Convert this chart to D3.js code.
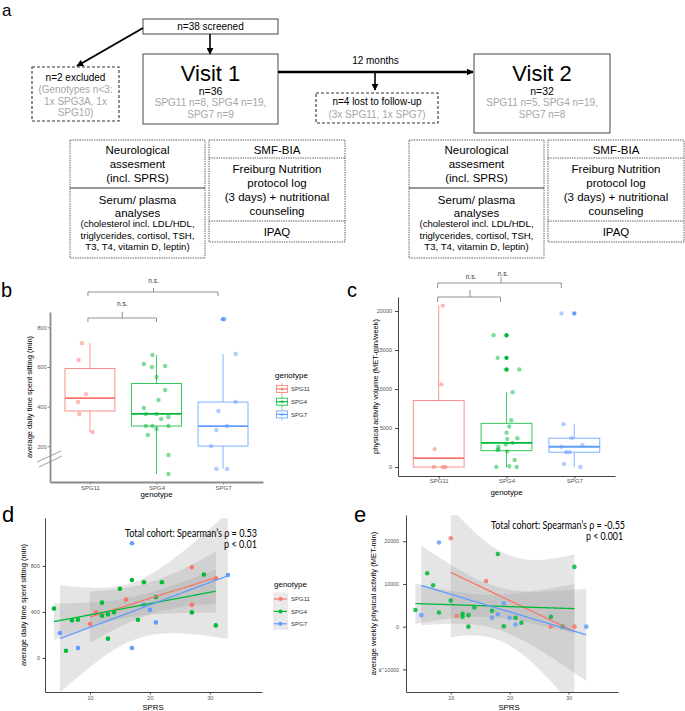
<html>
<script src="https://d3js.org/d3.v7.min.js"></script>
<style>
body {margin:0; background:#fff;}
</style>
<body>
<svg width=685 height=711></svg>
<script>
// ---- data ----
const genotypes = ["SPG11", "SPG4", "SPG7"];
const colors = ["#F8766D", "#00BA38", "#619CFF"];

// panel b: average daily time spent sitting (min); jitter = offset as share of category step
const sitSPG11 = [720, 635, 463, 423, 363, 272];
const sitJitSPG11 = [-0.12, -0.17, -0.06, -0.18, -0.16, 0.04];
const sitSPG4 = [615, 600, 605, 549, 660, 484, 433, 393, 363, 363, 338, 348, 302, 302, 302, 287, 257, 156, 60];
const sitJitSPG4 = [-0.19, -0.07, 0.13, 0, -0.06, 0.13, 0.03, -0.19, -0.16, 0, 0.07, 0.18, -0.16, -0.06, 0.18, 0, -0.13, 0.18, 0.18];
const sitSPG7 = [841, 665, 423, 378, 302, 282, 201, 86, 86];
const sitJitSPG7 = [0.02, 0.19, 0.19, -0.07, 0.06, -0.1, -0.18, -0.1, 0.06];

// panel c: physical activity volume (MET-min/week)
const actSPG11 = [20700, 10600, 2300, 0, 0, 0];
const actJitSPG11 = [0.06, 0.04, -0.06, -0.07, 0.06, 0.1];
const actSPG4 = [16900, 14000, 12500, 9600, 6000, 5200, 4400, 3700, 3600, 3100, 2900, 2600, 2200, 2250, 2000, 900, 0, 100, 0];
const actJitSPG4 = [-0.19, -0.13, 0.19, 0.09, 0.07, 0.04, 0, 0.16, 0.01, 0.09, -0.01, -0.12, -0.13, -0.12, 0.01, 0.12, -0.15, 0.04, 0.15];
const actSPG7 = [19700, 5500, 3700, 2800, 2600, 1900, 1900, 400, 0];
const actJitSPG7 = [-0.19, -0.16, -0.04, 0.12, -0.19, -0.12, -0.07, -0.15, 0.09];

// panel d: SPRS vs sitting time
const sprsD11 = [10, 11, 16, 27, 27, 31];
const sitD11 = [295, 397, 507, 789, 462, 693];
const sprsD4 = [4, 6, 7, 8, 12, 12, 13, 13, 14, 15, 17, 18, 19, 21, 22, 27, 29, 31];
const sitD4 = [429, 63, 327, 333, 481, 368, 379, 168, 397, 602, 678, 332, 658, 529, 658, 396, 725, 283];
const sprsD7 = [5, 8, 17, 17, 19, 20, 21, 33];
const sitD7 = [217, 87, 997, 87, 462, 418, 309, 722];

// panel e: SPRS vs weekly physical activity
const sprsE11 = [10, 11, 16, 27, 31];
const actE11 = [20700, 2500, 10700, 0, 0];
const sprsE4 = [4, 6, 7, 8, 10, 12, 12, 13, 13, 14, 17, 18, 19, 21, 22, 27, 29, 31];
const actE4 = [3900, 12500, 9700, 3300, 6100, 3000, 2300, 2700, 0, 4500, 3700, 17000, 100, 2100, 900, 2300, 0, 14000];
const sprsE7 = [5, 8, 17, 18, 19, 20, 21, 33];
const actE7 = [2700, 19700, 2100, 2900, 5500, 2100, 500, 0];

const ticksB = [200, 400, 600, 800];
const ticksC = [0, 5000, 10000, 15000, 20000];
const ticksDy = [0, 400, 800];
const ticksEy = [-10000, 0, 10000, 20000];
const ticksSPRS = [10, 20, 30];

// ---- helpers ----
const F = '"Liberation Sans", Arial, sans-serif';
const FN = 'Lato, "Open Sans", sans-serif';
const svg = d3.select("svg");
const GRAY = "#a6a6a6";
const plain = d3.format("d");

function txt(g, x, y, s, size, fill, anchor) {
  return g.append("text").attr("x", x).attr("y", y).text(s)
    .attr("font-size", size).attr("fill", fill || "#000")
    .attr("text-anchor", anchor || "middle").attr("font-family", F);
}
function rect(g, x, y, w, h, dash, sw) {
  return g.append("rect").attr("x", x).attr("y", y).attr("width", w).attr("height", h)
    .attr("fill", "none").attr("stroke", "#333").attr("stroke-width", sw || 0.9)
    .attr("stroke-dasharray", dash || null);
}
function line(g, x1, y1, x2, y2, sw, arrow) {
  return g.append("line").attr("x1", x1).attr("y1", y1).attr("x2", x2).attr("y2", y2)
    .attr("stroke", "#000").attr("stroke-width", sw)
    .attr("marker-end", arrow ? "url(#ah)" : null);
}

svg.append("defs").append("marker").attr("id", "ah").attr("viewBox", "0 0 10 10")
  .attr("refX", 9).attr("refY", 5).attr("markerWidth", 7).attr("markerHeight", 7)
  .attr("markerUnits", "userSpaceOnUse").attr("orient", "auto")
  .append("path").attr("d", "M0,0L10,5L0,10z").attr("fill", "#000");

// ---- panel a: flowchart ----
const fa = svg.append("g");
txt(fa, 2, 16, "a", 17, "#000", "start");

rect(fa, 143, 19, 135, 15);
txt(fa, 210.5, 30, "n=38 screened", 10);
line(fa, 210, 34, 210, 54, 1.6, true);
line(fa, 143, 28, 77, 66, 2, true);

rect(fa, 32, 67, 87, 54, "3,2", 1.1);
txt(fa, 75.5, 80.5, "n=2 excluded", 10);
txt(fa, 75.5, 92.5, "(Genotypes n<3:", 10, GRAY);
txt(fa, 75.5, 104.5, "1x SPG3A, 1x", 10, GRAY);
txt(fa, 75.5, 116, "SPG10)", 10, GRAY);

function visit(x, w, h, title, n, l1, l2) {
  rect(fa, x, 54, w, h);
  const cx = x + w / 2;
  txt(fa, cx, 80.5, title, 22);
  txt(fa, cx, 95, n, 10.5);
  txt(fa, cx, 106, l1, 10, GRAY);
  txt(fa, cx, 117.5, l2, 10, GRAY);
}
visit(143, 135, 70, "Visit 1", "n=36", "SPG11 n=8, SPG4 n=19,", "SPG7 n=9");
visit(474, 136, 79, "Visit 2", "n=32", "SPG11 n=5, SPG4 n=19,", "SPG7 n=8");

line(fa, 278, 72, 473, 72, 2.4, true);
txt(fa, 375.5, 64, "12 months", 10);
line(fa, 375, 72, 375, 90, 1.6, true);
rect(fa, 316, 93, 122, 30, "3,2", 1.1);
txt(fa, 377, 104.5, "n=4 lost to follow-up", 10);
txt(fa, 377, 117.5, "(3x SPG11, 1x SPG7)", 10, GRAY);

function lowerBoxes(xl, xr) {
  const dot = "1.4,1";
  const wl = 135, wr = 136;
  rect(fa, xl, 140, wl, 118, dot, 0.8);
  line(fa, xl, 188, xl + wl, 188, 0.8);
  const cl = xl + wl / 2;
  txt(fa, cl, 154, "Neurological", 11.5);
  txt(fa, cl, 168, "assesment", 11.5);
  txt(fa, cl, 182, "(incl. SPRS)", 11.5);
  txt(fa, cl, 204, "Serum/ plasma", 11.5);
  txt(fa, cl, 216.5, "analyses", 11.5);
  txt(fa, cl, 227, "(cholesterol incl. LDL/HDL,", 9.6);
  txt(fa, cl, 238.5, "triglycerides, cortisol, TSH,", 9.6);
  txt(fa, cl, 250, "T3, T4, vitamin D, leptin)", 9.6);

  rect(fa, xr, 140, wr, 102, dot, 0.8);
  fa.append("line").attr("x1", xr).attr("x2", xr + wr).attr("y1", 158).attr("y2", 158)
    .attr("stroke", "#333").attr("stroke-width", 0.8).attr("stroke-dasharray", dot);
  fa.append("line").attr("x1", xr).attr("x2", xr + wr).attr("y1", 221).attr("y2", 221)
    .attr("stroke", "#333").attr("stroke-width", 0.8).attr("stroke-dasharray", dot);
  const cr = xr + wr / 2;
  txt(fa, cr, 154, "SMF-BIA", 11.5);
  txt(fa, cr, 173, "Freiburg Nutrition", 11.5);
  txt(fa, cr, 187, "protocol log", 11.5);
  txt(fa, cr, 201, "(3 days) + nutritional", 11.5);
  txt(fa, cr, 215, "counseling", 11.5);
  txt(fa, cr, 235.5, "IPAQ", 11.5);
}
lowerBoxes(70, 209);
lowerBoxes(409, 548);

// ---- shared plot helpers ----
function styleAxis(g, col, sw, size) {
  g.attr("font-family", F).attr("font-size", size);
  g.select(".domain").attr("stroke", col).attr("stroke-width", sw);
  g.selectAll(".tick line").attr("stroke", col).attr("stroke-width", Math.min(sw, 1));
  g.selectAll(".tick text").attr("fill", "#555");
}
function boxStats(v) {
  const s = v.slice().sort(d3.ascending);
  const q1 = d3.quantile(s, 0.25), med = d3.quantile(s, 0.5), q3 = d3.quantile(s, 0.75);
  const iqr = q3 - q1;
  const inside = s.filter(d => d >= q1 - 1.5 * iqr && d <= q3 + 1.5 * iqr);
  return {q1, med, q3, lo: d3.min(inside), hi: d3.max(inside),
          out: s.filter(d => d < q1 - 1.5 * iqr || d > q3 + 1.5 * iqr)};
}
function boxplot(g, x, y, groups) {
  const step = x.step(), hw = step * 0.375;
  groups.forEach((grp, i) => {
    const c = colors[i], cx = x(genotypes[i]), st = boxStats(grp.v);
    g.append("line").attr("x1", cx).attr("x2", cx).attr("y1", y(st.hi)).attr("y2", y(st.q3))
      .attr("stroke", c).attr("stroke-width", 1).attr("opacity", 0.75);
    g.append("line").attr("x1", cx).attr("x2", cx).attr("y1", y(st.q1)).attr("y2", y(st.lo))
      .attr("stroke", c).attr("stroke-width", 1).attr("opacity", 0.75);
    g.append("rect").attr("x", cx - hw).attr("width", 2 * hw)
      .attr("y", y(st.q3)).attr("height", y(st.q1) - y(st.q3))
      .attr("fill", "#fff").attr("stroke", c).attr("stroke-width", 1).attr("opacity", 0.8);
    g.append("line").attr("x1", cx - hw).attr("x2", cx + hw).attr("y1", y(st.med)).attr("y2", y(st.med))
      .attr("stroke", c).attr("stroke-width", 1.8);
    g.selectAll(null).data(st.out).enter().append("circle")
      .attr("cx", cx).attr("cy", d => y(d)).attr("r", 2.2).attr("fill", c);
    g.selectAll(null).data(grp.v).enter().append("circle")
      .attr("cx", (d, j) => cx + grp.j[j] * step).attr("cy", d => y(d))
      .attr("r", 2.2).attr("fill", c).attr("opacity", 0.5);
  });
}
function bracket(g, x1, x2, y, down, up, xm) {
  const m = xm === undefined ? (x1 + x2) / 2 : xm;
  g.append("path").attr("fill", "none").attr("stroke", "#777").attr("stroke-width", 0.8)
    .attr("d", `M${x1},${y + down}V${y}H${x2}V${y + down}M${m},${y}V${y - up}`);
}
function legendTitle(g, x, y) { txt(g, x, y, "genotype", 8, "#000", "start"); }

// ---- panel b ----
const gb = svg.append("g");
txt(gb, 1, 297, "b", 20, "#000", "start");
const xB = d3.scalePoint().domain(genotypes).range([50, 263]).padding(0.6);
const yB = d3.scaleLinear().domain([20, 877]).range([482, 312]);
boxplot(gb, xB, yB, [{v: sitSPG11, j: sitJitSPG11}, {v: sitSPG4, j: sitJitSPG4}, {v: sitSPG7, j: sitJitSPG7}]);
const axBy = gb.append("g").attr("transform", "translate(50,0)")
  .call(d3.axisLeft(yB).tickValues(ticksB).tickFormat(plain).tickSize(2.5).tickSizeOuter(0).tickPadding(1));
styleAxis(axBy, "#8a8a8a", 1.8, 5.5);
const axBx = gb.append("g").attr("transform", "translate(0,482)")
  .call(d3.axisBottom(xB).tickSize(2.5).tickSizeOuter(0).tickPadding(1.5));
styleAxis(axBx, "#8a8a8a", 1.8, 6);
gb.append("path").attr("stroke", "#888").attr("stroke-width", 0.8).attr("fill", "none")
  .attr("d", "M37,462L61,451M39,467L62,456");
txt(gb, 0, 0, "average daily time spent sitting (min)", 7.5)
  .attr("transform", `translate(32,${(312 + 482) / 2}) rotate(-90)`);
txt(gb, 156.5, 497, "genotype", 7.8);
bracket(gb, xB("SPG11") - 2, xB("SPG7") - 5, 292, 4, 4, (xB("SPG11") + xB("SPG7")) / 2 - 3);
txt(gb, (xB("SPG11") + xB("SPG7")) / 2 - 3, 283, "n.s.", 6.5, "#333");
bracket(gb, xB("SPG11") - 2, xB("SPG4"), 318, 4, 6);
txt(gb, (xB("SPG11") + xB("SPG4")) / 2 - 1, 306, "n.s.", 6.5, "#333");
// legend b
legendTitle(gb, 275, 378);
genotypes.forEach((gname, i) => {
  const gy = 389 + i * 12.7, c = colors[i];
  gb.append("line").attr("x1", 282).attr("x2", 282).attr("y1", gy - 6).attr("y2", gy + 6)
    .attr("stroke", c).attr("stroke-width", 0.8).attr("opacity", 0.8);
  gb.append("rect").attr("x", 276.5).attr("y", gy - 3.5).attr("width", 11).attr("height", 7)
    .attr("fill", "#fff").attr("stroke", c).attr("stroke-width", 0.9).attr("opacity", 0.85);
  gb.append("line").attr("x1", 276.5).attr("x2", 287.5).attr("y1", gy).attr("y2", gy)
    .attr("stroke", c).attr("stroke-width", 1.2);
  gb.append("circle").attr("cx", 282).attr("cy", gy).attr("r", 1.5).attr("fill", c).attr("opacity", 0.6);
  txt(gb, 291, gy + 2.2, gname, 6, "#333", "start");
});

// ---- panel c ----
const gc = svg.append("g");
txt(gc, 347, 297, "c", 20, "#000", "start");
const xC = d3.scalePoint().domain(genotypes).range([398, 615]).padding(0.6);
const yC = d3.scaleLinear().domain([-1150, 21800]).range([476, 297]);
boxplot(gc, xC, yC, [{v: actSPG11, j: actJitSPG11}, {v: actSPG4, j: actJitSPG4}, {v: actSPG7, j: actJitSPG7}]);
const axCy = gc.append("g").attr("transform", "translate(398,0)")
  .call(d3.axisLeft(yC).tickValues(ticksC).tickFormat(plain).tickSize(3).tickSizeOuter(0).tickPadding(3));
styleAxis(axCy, "#444", 1, 5.5);
const axCx = gc.append("g").attr("transform", "translate(0,476)")
  .call(d3.axisBottom(xC).tickSize(2.5).tickSizeOuter(0).tickPadding(0.5));
styleAxis(axCx, "#444", 1, 6);
txt(gc, 0, 0, "physical activity volume (MET-min/week)", 7.5)
  .attr("transform", `translate(378,${(297 + 476) / 2}) rotate(-90)`);
txt(gc, 506.5, 495, "genotype", 7.8);
bracket(gc, xC("SPG11") - 1, xC("SPG7") - 13, 283, 5, 6, 501);
bracket(gc, xC("SPG11") - 1, xC("SPG4") - 6, 297, 5, 7, 470);
txt(gc, 471, 279, "n.s.", 6.5, "#333");
txt(gc, 503, 276, "n.s.", 6.5, "#333");

// ---- regression with 95% band ----
function t975(df) {
  const z = 1.959964;
  const g1 = (z ** 3 + z) / 4, g2 = (5 * z ** 5 + 16 * z ** 3 + 3 * z) / 96;
  const g3 = (3 * z ** 7 + 19 * z ** 5 + 17 * z ** 3 - 15 * z) / 384;
  const g4 = (79 * z ** 9 + 776 * z ** 7 + 1482 * z ** 5 - 1920 * z ** 3 - 945 * z) / 92160;
  return z + g1 / df + g2 / df ** 2 + g3 / df ** 3 + g4 / df ** 4;
}
function lmBand(xs, ys) {
  const n = xs.length, mx = d3.mean(xs), my = d3.mean(ys);
  const sxx = d3.sum(xs, x => (x - mx) ** 2);
  const sxy = d3.sum(xs, (x, i) => (x - mx) * (ys[i] - my));
  const b = sxy / sxx, a = my - b * mx;
  const sse = d3.sum(xs, (x, i) => (ys[i] - a - b * x) ** 2);
  const s = Math.sqrt(sse / (n - 2)), t = t975(n - 2);
  const [x0, x1] = d3.extent(xs);
  return d3.range(81).map(k => {
    const x = x0 + (x1 - x0) * k / 80, yh = a + b * x;
    const se = s * Math.sqrt(1 / n + (x - mx) ** 2 / sxx);
    return {x, y: yh, lo: yh - t * se, hi: yh + t * se};
  });
}
function scatterPanel(g, id, x, y, sets, ptOpacity) {
  const [xa, xb] = x.range(), [ya, yb] = y.range();
  g.append("clipPath").attr("id", id).append("rect")
    .attr("x", xa).attr("y", yb).attr("width", xb - xa).attr("height", ya - yb);
  const pc = g.append("g").attr("clip-path", `url(#${id})`);
  const fits = sets.map(s => lmBand(s.x, s.y));
  fits.forEach(f => pc.append("path").datum(f).attr("fill", "#999").attr("opacity", 0.26)
    .attr("d", d3.area().x(d => x(d.x)).y0(d => y(d.lo)).y1(d => y(d.hi))));
  sets.forEach((s, i) => pc.selectAll(null).data(s.x).enter().append("circle")
    .attr("cx", d => x(d)).attr("cy", (d, j) => y(s.y[j])).attr("r", 2.3)
    .attr("fill", colors[i]).attr("opacity", ptOpacity));
  fits.forEach((f, i) => pc.append("path").datum(f).attr("fill", "none")
    .attr("stroke", colors[i]).attr("stroke-width", 1.3)
    .attr("d", d3.line().x(d => x(d.x)).y(d => y(d.y))));
}

// ---- panel d ----
const gd = svg.append("g");
txt(gd, 2, 522, "d", 22, "#000", "start");
const xD = d3.scaleLinear().domain([2.5, 38.7]).range([45, 262]);
const yD = d3.scaleLinear().domain([-296, 1217]).range([692, 518]);
scatterPanel(gd, "clipD", xD, yD,
  [{x: sprsD11, y: sitD11}, {x: sprsD4, y: sitD4}, {x: sprsD7, y: sitD7}], 1);
const axDy = gd.append("g").attr("transform", "translate(45,0)")
  .call(d3.axisLeft(yD).tickValues(ticksDy).tickFormat(plain).tickSize(2.5).tickSizeOuter(0).tickPadding(2.5));
styleAxis(axDy, "#444", 1, 5.5);
const axDx = gd.append("g").attr("transform", "translate(0,692)")
  .call(d3.axisBottom(xD).tickValues(ticksSPRS).tickFormat(plain).tickSize(2.5).tickSizeOuter(0).tickPadding(2));
styleAxis(axDx, "#444", 1, 5.5);
txt(gd, 0, 0, "average daily time spent sitting (min)", 7.5)
  .attr("transform", `translate(26,${(518 + 692) / 2}) rotate(-90)`);
txt(gd, 153, 710, "SPRS", 7.8);
txt(gd, 257, 537, "Total cohort: Spearman\u2019s \u03c1 = 0.53", 10.5, "#000", "end")
  .attr("font-family", FN).attr("textLength", 132).attr("lengthAdjust", "spacingAndGlyphs");
txt(gd, 257, 548, "p < 0.01", 10.5, "#000", "end")
  .attr("font-family", FN).attr("textLength", 33).attr("lengthAdjust", "spacingAndGlyphs");
// legend d
legendTitle(gd, 274, 587);
gd.append("rect").attr("x", 273).attr("y", 592.5).attr("width", 15).attr("height", 37.5).attr("fill", "#e9e9e9");
genotypes.forEach((gname, i) => {
  const gy = 599 + i * 12.4;
  gd.append("line").attr("x1", 274).attr("x2", 287).attr("y1", gy).attr("y2", gy)
    .attr("stroke", colors[i]).attr("stroke-width", 1.2);
  gd.append("circle").attr("cx", 280.5).attr("cy", gy).attr("r", 2).attr("fill", colors[i]);
  txt(gd, 291, gy + 2.2, gname, 6, "#333", "start");
});

// ---- panel e ----
const ge = svg.append("g");
txt(ge, 354, 522, "e", 22, "#000", "start");
const xE = d3.scaleLinear().domain([2.4, 38.4]).range([406, 618]);
const yE = d3.scaleLinear().domain([-15300, 26150]).range([692, 515]);
scatterPanel(ge, "clipE", xE, yE,
  [{x: sprsE11, y: actE11}, {x: sprsE4, y: actE4}, {x: sprsE7, y: actE7}], 0.85);
const axEy = ge.append("g").attr("transform", "translate(406,0)")
  .call(d3.axisLeft(yE).tickValues(ticksEy).tickFormat(plain).tickSize(3).tickSizeOuter(0).tickPadding(4));
styleAxis(axEy, "#444", 1, 5.3);
const axEx = ge.append("g").attr("transform", "translate(0,692)")
  .call(d3.axisBottom(xE).tickValues(ticksSPRS).tickFormat(plain).tickSize(2.5).tickSizeOuter(0).tickPadding(2));
styleAxis(axEx, "#444", 1, 5.5);
txt(ge, 0, 0, "average weekly physical activity (MET-min)", 7.5)
  .attr("transform", `translate(375.5,${(515 + 692) / 2}) rotate(-90)`);
txt(ge, 509, 710, "SPRS", 7.8);
txt(ge, 625, 529, "Total cohort: Spearman\u2019s \u03c1 = -0.55", 10.5, "#000", "end")
  .attr("font-family", FN).attr("textLength", 134).attr("lengthAdjust", "spacingAndGlyphs");
txt(ge, 623, 540, "p < 0.001", 10.5, "#000", "end")
  .attr("font-family", FN).attr("textLength", 37).attr("lengthAdjust", "spacingAndGlyphs");
</script>
</body>
</html>
